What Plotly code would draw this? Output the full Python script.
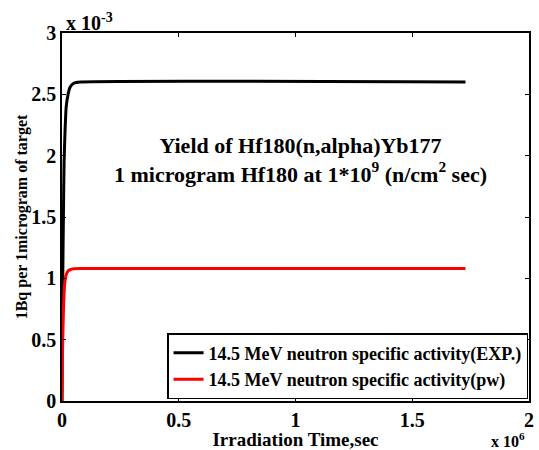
import plotly.graph_objects as go

# Irradiation time (s)
t_sec = [0, 1500, 3000, 6000, 9000, 13000, 18000, 26000, 35000, 50000, 80000, 1728000]
# Specific activity (units of 1e-3 Bq per microgram)
exp_act = [0, 0.55, 0.95, 1.5, 1.95, 2.2, 2.4, 2.5, 2.56, 2.59, 2.6, 2.6]
pw_act = [0, 0.3, 0.48, 0.72, 0.88, 0.98, 1.03, 1.06, 1.07, 1.078, 1.08, 1.08]

x_ticks = [0, 0.5e6, 1e6, 1.5e6, 2e6]
x_labels = ["0", "0.5", "1", "1.5", "2"]
y_ticks = [0, 0.5, 1, 1.5, 2, 2.5, 3]
y_labels = ["0", "0.5", "1", "1.5", "2", "2.5", "3"]

FONT = "Liberation Serif"

def bf(size):
    return dict(family=FONT, size=size, color="black", weight="bold")

fig = go.Figure()
fig.add_trace(go.Scatter(x=t_sec, y=exp_act, mode="lines",
                         line=dict(color="black", width=3, shape="spline", smoothing=0.6),
                         name="14.5 MeV neutron specific activity(EXP.)"))
fig.add_trace(go.Scatter(x=t_sec, y=pw_act, mode="lines",
                         line=dict(color="red", width=3, shape="spline", smoothing=0.6),
                         name="14.5 MeV neutron specific activity(pw)"))

axis_common = dict(showgrid=False, zeroline=False, showline=True, linecolor="black", linewidth=1.5,
                   mirror="ticks", ticks="inside", ticklen=4, tickcolor="black",
                   tickfont=bf(20), automargin=False)

fig.update_layout(
    width=539, height=450,
    margin=dict(l=62, r=10, t=33, b=49),
    paper_bgcolor="white", plot_bgcolor="white",
    font=dict(family=FONT, color="black"),
    showlegend=True,
    legend=dict(x=0.998, y=0.005, xanchor="right", yanchor="bottom",
                bordercolor="black", borderwidth=1.5, bgcolor="white",
                font=bf(18), tracegroupgap=0, itemwidth=30),
    xaxis=dict(range=[0, 2e6], tickvals=x_ticks, ticktext=x_labels,
               title=dict(text="Irradiation Time,sec", font=bf(19), standoff=0),
               **axis_common),
    yaxis=dict(range=[0, 3], tickvals=y_ticks, ticktext=y_labels,
               title=dict(text="1Bq per 1microgram of target", font=bf(16), standoff=0),
               **axis_common),
)

fig.add_annotation(x=0, y=1, xref="paper", yref="paper", xanchor="left", yanchor="bottom", yshift=-3, xshift=2,
                   text="x 10<sup>-3</sup>", showarrow=False, font=bf(20))
fig.add_annotation(x=1, y=0, xref="paper", yref="paper", xanchor="right", yanchor="bottom", yshift=-51, xshift=-2,
                   text="x 10<sup>6</sup>", showarrow=False, font=bf(16))
fig.add_annotation(x=0.51, y=0.655, xref="paper", yref="paper", xanchor="center", yanchor="middle",
                   text="Yield of Hf180(n,alpha)Yb177<br>1 microgram Hf180 at 1*10<sup>9</sup> (n/cm<sup>2</sup> sec)",
                   showarrow=False, font=bf(22))

fig.write_html("out.html")
